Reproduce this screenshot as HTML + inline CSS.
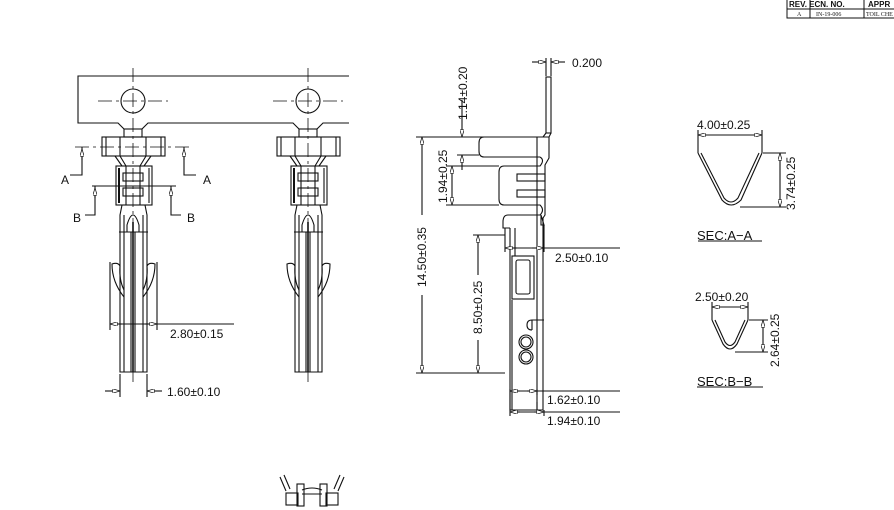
<!DOCTYPE html>
<html><head><meta charset="utf-8"><style>
html,body{margin:0;padding:0;background:#fff;width:894px;height:510px;overflow:hidden}
svg{display:block}
text{font-family:"Liberation Sans",sans-serif;font-size:12px;fill:#111}
</style></head><body>
<svg width="894" height="510" viewBox="0 0 894 510" xmlns="http://www.w3.org/2000/svg">
<defs>
<marker id="ar" viewBox="0 0 10 6" refX="10" refY="3" markerWidth="7" markerHeight="4" orient="auto-start-reverse"><path d="M0,0 L10,3 L0,6 Z" fill="#fff" stroke="#111" stroke-width="1"/></marker>
</defs>
<g fill="none" stroke="#111" stroke-width="1">
<rect x="787" y="-1" width="110" height="19"/>
<line x1="787" y1="9" x2="894" y2="9"/>
<line x1="810" y1="0" x2="810" y2="18"/><line x1="864" y1="0" x2="864" y2="18"/>
</g>
<text x="789" y="7" style="font-size:8px;font-weight:bold">REV. ECN. NO.</text>
<text x="868" y="7" style="font-size:8px;font-weight:bold">APPR</text>
<text x="797" y="16" style="font-size:6px;font-family:'Liberation Serif',serif">A</text>
<text x="816" y="16" style="font-size:6px;font-family:'Liberation Serif',serif">IN-19-006</text>
<text x="866" y="16" style="font-size:6px;font-family:'Liberation Serif',serif">TOIL CHE</text>

<g fill="none" stroke="#111" stroke-width="1.1">
<path d="M349,76 L78,76 L78,123 L118,123 L124,129 M142,129 L148,123 L293,123 L299,129 M317,129 L323,123 L349,123"/>
<g stroke-dasharray="14,4,3,4" stroke-width="0.8">
<line x1="133" y1="68" x2="133" y2="385"/><line x1="308" y1="68" x2="308" y2="385"/>
<line x1="98" y1="101" x2="168" y2="101"/><line x1="273" y1="101" x2="343" y2="101"/>
<line x1="75" y1="147" x2="193" y2="147"/>
</g>
<circle cx="133" cy="101" r="12"/><circle cx="308" cy="101" r="12"/>

<g id="t">
<rect x="124" y="129" width="18" height="8"/>
<rect x="102" y="137" width="63" height="19"/>
<line x1="106" y1="137" x2="106" y2="156"/><line x1="161" y1="137" x2="161" y2="156"/>
<line x1="120" y1="137" x2="120" y2="156"/><line x1="146" y1="137" x2="146" y2="156"/>
<path d="M115,156 L122,166 M151,156 L144,166 M120,156 L126,166 M146,156 L140,166"/>
<rect x="116" y="166" width="36" height="39"/>
<line x1="119" y1="168" x2="119" y2="203" stroke-width="2"/><line x1="149" y1="168" x2="149" y2="203"/>
<rect x="123" y="173" width="20" height="8"/><rect x="123" y="188" width="20" height="8"/>
<line x1="126" y1="166" x2="126" y2="205"/><line x1="140" y1="166" x2="140" y2="205"/>
<path d="M122,205 L120,215 L120,372 L147,372 L147,215 L145,205"/>
<path d="M127,225 Q133,205 139,225 L139,232 L127,232 Z"/>
<line x1="119" y1="232" x2="148" y2="232"/>
<line x1="124" y1="215" x2="124" y2="372"/><line x1="143" y1="215" x2="143" y2="372"/>
<line x1="131" y1="232" x2="131" y2="372"/><line x1="135" y1="232" x2="135" y2="372"/>
<line x1="133" y1="222" x2="133" y2="372" stroke-width="1.6"/>
<path d="M124,297 Q112,282 112,264 Q118,262 120,266 Q119,280 124,290"/>
<path d="M143,297 Q155,282 155,264 Q149,262 147,266 Q148,280 143,290"/>
</g>
<use href="#t" transform="translate(175,0)"/>

<path d="M82,147 L82,175 L70,175 M184,147 L184,175 L196,175"/>
<path d="M95,186 L95,215 L85,215 M171,186 L171,215 L181,215"/>
<line x1="92" y1="186" x2="176" y2="186"/>
<line x1="82" y1="160" x2="82" y2="149" marker-end="url(#ar)"/>
<line x1="184" y1="160" x2="184" y2="149" marker-end="url(#ar)"/>
<line x1="95" y1="198" x2="95" y2="188" marker-end="url(#ar)"/>
<line x1="171" y1="198" x2="171" y2="188" marker-end="url(#ar)"/>

<line x1="110" y1="262" x2="110" y2="330"/><line x1="157" y1="262" x2="157" y2="330"/>
<line x1="110" y1="324" x2="234" y2="324"/>
<line x1="122" y1="324" x2="110" y2="324" marker-end="url(#ar)"/>
<line x1="145" y1="324" x2="157" y2="324" marker-end="url(#ar)"/>
<line x1="120" y1="374" x2="120" y2="397"/><line x1="147" y1="374" x2="147" y2="397"/>
<line x1="105" y1="391" x2="120" y2="391" marker-end="url(#ar)"/>
<line x1="162" y1="391" x2="147" y2="391" marker-end="url(#ar)"/>

<rect x="546" y="77" width="5" height="56"/>
<path d="M546,133 L543,137 M551,133 L549,137"/>
<path d="M549,137 L484,137 Q479,137 479,143 L479,151 Q479,157 484,157 L540,157"/>
<path d="M540,157 Q545,160 540,166 L504,166 Q499,166 499,172 L499,199 Q499,205 504,205 L540,205 Q545,210 540,215 L508,215 Q503,215 503,222 L503,228 L510,228"/>
<path d="M549,137 L549,158 L545,165 L545,215 L543,218 L543,410 L510,410 L510,228"/>
<line x1="537" y1="137" x2="537" y2="410"/>
<rect x="517" y="174" width="28" height="7"/><rect x="517" y="190" width="28" height="7"/>
<path d="M541,215 L541,225 L544,225 Z"/>
<rect x="512" y="256" width="22" height="43"/><rect x="516" y="260" width="14" height="34" rx="2"/>
<line x1="515" y1="228" x2="515" y2="256"/>
<path d="M544,320 L532,320 Q527,320 527,325 Q527,330 532,330 M532,320 L532,330"/>
<circle cx="526" cy="342" r="7"/><circle cx="526" cy="342" r="5"/>
<circle cx="526" cy="357" r="7"/><circle cx="526" cy="357" r="5"/>
<line x1="512" y1="300" x2="512" y2="410"/>

<line x1="546" y1="58" x2="546" y2="76"/><line x1="551" y1="58" x2="551" y2="76"/>
<line x1="532" y1="62" x2="546" y2="62" marker-end="url(#ar)"/>
<line x1="565" y1="62" x2="551" y2="62" marker-end="url(#ar)"/>
<line x1="416" y1="137" x2="549" y2="137"/><line x1="416" y1="373" x2="505" y2="373"/>
<line x1="422" y1="215" x2="422" y2="137" marker-end="url(#ar)"/>
<line x1="422" y1="295" x2="422" y2="373" marker-end="url(#ar)"/>
<line x1="457" y1="155" x2="479" y2="155"/>
<line x1="462" y1="100" x2="462" y2="137" marker-end="url(#ar)"/>
<line x1="462" y1="170" x2="462" y2="155" marker-end="url(#ar)"/>
<line x1="446" y1="166" x2="499" y2="166"/><line x1="446" y1="205" x2="499" y2="205"/>
<line x1="452" y1="166" x2="452" y2="205" marker-start="url(#ar)" marker-end="url(#ar)"/>
<line x1="473" y1="235" x2="505" y2="235"/>
<line x1="478" y1="275" x2="478" y2="235" marker-end="url(#ar)"/>
<line x1="478" y1="340" x2="478" y2="373" marker-end="url(#ar)"/>
<line x1="505" y1="228" x2="505" y2="252"/><line x1="544" y1="225" x2="544" y2="252"/>
<line x1="505" y1="248" x2="620" y2="248"/>
<line x1="517" y1="248" x2="505" y2="248" marker-end="url(#ar)"/>
<line x1="532" y1="248" x2="544" y2="248" marker-end="url(#ar)"/>
<line x1="510" y1="410" x2="510" y2="416"/><line x1="537" y1="410" x2="537" y2="402"/><line x1="544" y1="410" x2="544" y2="416"/>
<line x1="510" y1="389" x2="510" y2="410"/><line x1="537" y1="389" x2="537" y2="395"/>
<line x1="510" y1="391" x2="620" y2="391"/><line x1="510" y1="412" x2="620" y2="412"/>
<line x1="520" y1="391" x2="510" y2="391" marker-end="url(#ar)"/><line x1="527" y1="391" x2="537" y2="391" marker-end="url(#ar)"/>
<line x1="520" y1="412" x2="510" y2="412" marker-end="url(#ar)"/><line x1="534" y1="412" x2="544" y2="412" marker-end="url(#ar)"/>

<path d="M698,153 L722,200 Q731,210 741,200 L762,153 M701,153 L724,198 Q731,206 738,198 L759,153" stroke-width="1.1"/>
<line x1="698" y1="130" x2="698" y2="153"/><line x1="762" y1="130" x2="762" y2="153"/>
<line x1="698" y1="135" x2="762" y2="135" marker-start="url(#ar)" marker-end="url(#ar)"/>
<line x1="763" y1="153" x2="786" y2="153"/><line x1="740" y1="207" x2="786" y2="207"/>
<line x1="780" y1="153" x2="780" y2="207" marker-start="url(#ar)" marker-end="url(#ar)"/>
<line x1="698" y1="241" x2="762" y2="241"/>
<path d="M712,320 L723,344 Q730,354 737,344 L748,320 M715,320 L725,342 Q730,349 735,342 L745,320" stroke-width="1.1"/>
<line x1="712" y1="302" x2="712" y2="320"/><line x1="748" y1="302" x2="748" y2="320"/>
<line x1="712" y1="307" x2="748" y2="307" marker-start="url(#ar)" marker-end="url(#ar)"/>
<line x1="749" y1="320" x2="768" y2="320"/><line x1="735" y1="352" x2="768" y2="352"/>
<line x1="763" y1="320" x2="763" y2="352" marker-start="url(#ar)" marker-end="url(#ar)"/>
<line x1="697" y1="387" x2="763" y2="387"/>

<path d="M280,477 L286,491 M284,475 L290,489 M340,475 L334,489 M344,477 L338,491"/>
<rect x="286" y="493" width="12" height="12"/><rect x="326" y="493" width="12" height="12"/>
<rect x="297" y="484" width="7" height="22"/><rect x="320" y="484" width="7" height="22"/>
<path d="M302,490 Q312,486 322,490 M302,494 L322,494"/>
</g>

<text x="61" y="184">A</text><text x="203" y="184">A</text>
<text x="73" y="222">B</text><text x="187" y="222">B</text>
<text x="170" y="338">2.80±0.15</text>
<text x="167" y="396">1.60±0.10</text>
<text x="572" y="67">0.200</text>
<text transform="translate(467,120) rotate(-90)">1.14±0.20</text>
<text transform="translate(447,203) rotate(-90)">1.94±0.25</text>
<text transform="translate(426,287) rotate(-90)">14.50±0.35</text>
<text transform="translate(482,334) rotate(-90)">8.50±0.25</text>
<text x="555" y="262">2.50±0.10</text>
<text x="547" y="404">1.62±0.10</text>
<text x="547" y="425">1.94±0.10</text>
<text x="697" y="129">4.00±0.25</text>
<text transform="translate(795,210) rotate(-90)">3.74±0.25</text>
<text x="697" y="240" style="font-size:13px">SEC:A−A</text>
<text x="695" y="301">2.50±0.20</text>
<text transform="translate(779,367) rotate(-90)">2.64±0.25</text>
<text x="697" y="386" style="font-size:13px">SEC:B−B</text>
</svg>
</body></html>
